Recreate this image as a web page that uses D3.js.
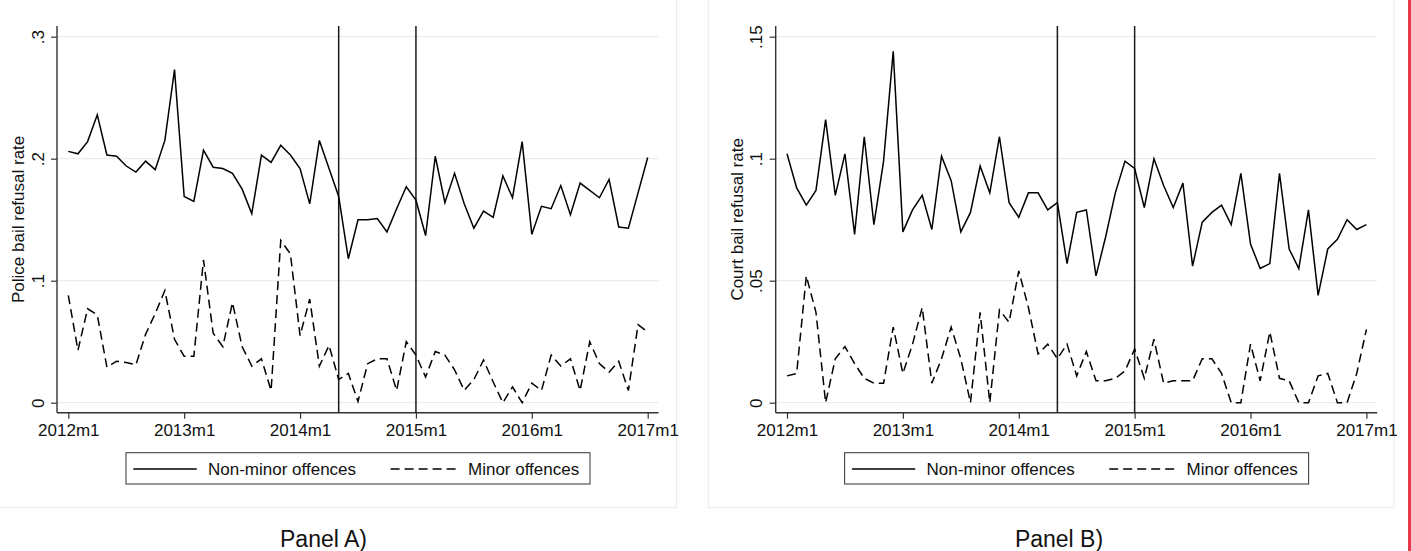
<!DOCTYPE html>
<html>
<head>
<meta charset="utf-8">
<script src="https://cdn.jsdelivr.net/npm/d3@7"></script>
<style>
  html, body { margin: 0; padding: 0; background: #fff; }
  svg text { font-family: "Liberation Sans", Arial, sans-serif; fill: #111; }
</style>
</head>
<body>
<svg id="chart" width="1411" height="551"></svg>
<script>
// ---------------- data ----------------
const monthIndex = d3.range(0, 61); // 2012m1 .. 2017m1
const xTickValues = [0, 12, 24, 36, 48, 60];
const xTickLabels = ["2012m1", "2013m1", "2014m1", "2015m1", "2016m1", "2017m1"];
const referenceMonths = [28, 36]; // 2014m5, 2015m1

const policeNonMinor = [.206, .204, .214, .236, .203, .202, .194, .189, .198, .191,
  .215, .273, .169, .165, .207, .193, .192, .188, .175, .155,
  .203, .197, .211, .203, .192, .163, .215, .192, .169, .118,
  .150, .150, .151, .140, .159, .177, .166, .137, .202, .164,
  .188, .163, .143, .157, .152, .186, .168, .214, .138, .161,
  .159, .178, .154, .180, .174, .168, .183, .144, .143, .172, .201];
const policeMinor = [.088, .043, .077, .072, .029, .034, .033, .031, .056, .073,
  .092, .052, .038, .038, .117, .057, .046, .082, .046, .030,
  .036, .010, .133, .122, .055, .085, .030, .047, .019, .024,
  .001, .032, .036, .036, .010, .050, .039, .021, .042, .039,
  .027, .010, .019, .035, .017, .000, .013, .000, .016, .010,
  .039, .030, .036, .010, .050, .032, .025, .034, .010, .064, .058];
const courtNonMinor = [.102, .088, .081, .087, .116, .085, .102, .069, .109, .073,
  .099, .144, .070, .079, .085, .071, .101, .091, .070, .078,
  .097, .086, .109, .082, .076, .086, .086, .079, .082, .057,
  .078, .079, .052, .068, .086, .099, .096, .080, .100, .089,
  .080, .090, .056, .074, .078, .081, .073, .094, .065, .055,
  .057, .094, .063, .055, .079, .044, .063, .067, .075, .071, .073];
const courtMinor = [.011, .012, .052, .037, .000, .018, .023, .016, .010, .008,
  .008, .031, .012, .024, .039, .008, .018, .031, .018, .000,
  .037, .000, .038, .033, .054, .039, .020, .024, .018, .024,
  .011, .021, .009, .009, .010, .013, .022, .010, .026, .008,
  .009, .009, .009, .018, .018, .012, .000, .000, .024, .009,
  .029, .010, .009, .000, .000, .011, .012, .000, .000, .012, .030];

const yTicksA = [0, .1, .2, .3];
const yTickLabelsA = ["0", ".1", ".2", ".3"];
const yTicksB = [0, .05, .1, .15];
const yTickLabelsB = ["0", ".05", ".1", ".15"];

const seriesNames = ["Non-minor offences", "Minor offences"];
const panelCaptions = ["Panel A)", "Panel B)"];
const yTitles = ["Police bail refusal rate", "Court bail refusal rate"];

// ---------------- drawing ----------------
const svg = d3.select("#chart");
const FONT = 17;
const DASH = "9,5";

function drawPanel(cfg) {
  const g = svg.append("g");
  const x = d3.scaleLinear().domain([0, 60]).range([cfg.x0, cfg.x0 + 579.4]);
  const y = d3.scaleLinear().domain([0, cfg.yMax]).range([402.7, 36.7]);
  const axisLeftX = cfg.x0 - 11.3;
  const axisRightX = cfg.x0 + 590.2;
  const plotTop = 26, axisY = 412.7;

  // faint panel frame
  g.append("rect")
    .attr("x", cfg.frame[0]).attr("y", -2)
    .attr("width", cfg.frame[1] - cfg.frame[0]).attr("height", 507.7 + 2)
    .attr("fill", "none").attr("stroke", "#e3ebef").attr("stroke-width", 1);

  // gridlines
  g.selectAll(".grid").data(cfg.yTicks).join("line")
    .attr("x1", axisLeftX).attr("x2", axisRightX)
    .attr("y1", d => y(d)).attr("y2", d => y(d))
    .attr("stroke", "#e6eef2").attr("stroke-width", 1.2);

  // y axis
  const yAxis = d3.axisLeft(y).tickValues(cfg.yTicks).tickSize(6).tickSizeOuter(0)
    .tickFormat((d, i) => cfg.yLabels[i]);
  const ya = g.append("g").attr("transform", `translate(${axisLeftX},0)`).call(yAxis);
  ya.select(".domain").remove();
  ya.selectAll(".tick line").attr("stroke", "#333").attr("stroke-width", 1.2);
  ya.selectAll(".tick text")
    .attr("x", null).attr("dy", null)
    .attr("transform", "translate(-13.5,0) rotate(-90)")
    .attr("text-anchor", "middle")
    .style("font-size", FONT + "px").style("font-family", "Liberation Sans, Arial, sans-serif")
    .attr("fill", "#111");
  g.append("line").attr("x1", axisLeftX).attr("x2", axisLeftX)
    .attr("y1", plotTop).attr("y2", axisY).attr("stroke", "#333").attr("stroke-width", 1.4);

  // x axis
  const xAxis = d3.axisBottom(x).tickValues(xTickValues).tickSize(6).tickSizeOuter(0)
    .tickFormat((d, i) => xTickLabels[i]);
  const xa = g.append("g").attr("transform", `translate(0,${axisY})`).call(xAxis);
  xa.select(".domain").remove();
  xa.selectAll(".tick line").attr("stroke", "#333").attr("stroke-width", 1.2);
  xa.selectAll(".tick text").attr("y", 23.3).attr("dy", null)
    .style("font-size", FONT + "px").style("font-family", "Liberation Sans, Arial, sans-serif")
    .attr("fill", "#111");
  g.append("line").attr("x1", axisLeftX).attr("x2", axisRightX)
    .attr("y1", axisY).attr("y2", axisY).attr("stroke", "#333").attr("stroke-width", 1.4);

  // y title
  g.append("text")
    .attr("transform", `translate(${axisLeftX - 33},${(plotTop + axisY) / 2}) rotate(-90)`)
    .attr("text-anchor", "middle").style("font-size", FONT + "px")
    .text(cfg.yTitle);

  // reference lines
  g.selectAll(".ref").data(referenceMonths).join("line")
    .attr("x1", d => x(d)).attr("x2", d => x(d))
    .attr("y1", plotTop).attr("y2", axisY)
    .attr("stroke", "#1a1a1a").attr("stroke-width", 1.5);

  // series
  const line = d3.line().x((d, i) => x(monthIndex[i])).y(d => y(d));
  g.append("path").datum(cfg.nonMinor).attr("d", line)
    .attr("fill", "none").attr("stroke", "#000").attr("stroke-width", 1.5)
    .attr("stroke-linejoin", "miter");
  g.append("path").datum(cfg.minor).attr("d", line)
    .attr("fill", "none").attr("stroke", "#000").attr("stroke-width", 1.5)
    .attr("stroke-dasharray", DASH);

  // legend
  const lx = cfg.legendX, ly = 452.7;
  g.append("rect").attr("x", lx).attr("y", ly).attr("width", 464).attr("height", 31.3)
    .attr("fill", "#fff").attr("stroke", "#444").attr("stroke-width", 1.1);
  g.append("line").attr("x1", lx + 7.3).attr("x2", lx + 70.7).attr("y1", 469).attr("y2", 469)
    .attr("stroke", "#000").attr("stroke-width", 1.5);
  g.append("text").attr("x", lx + 82).attr("y", 475).style("font-size", FONT + "px")
    .text(seriesNames[0]);
  g.append("line").attr("x1", lx + 264.6).attr("x2", lx + 332).attr("y1", 469).attr("y2", 469)
    .attr("stroke", "#000").attr("stroke-width", 1.5).attr("stroke-dasharray", DASH);
  g.append("text").attr("x", lx + 342).attr("y", 475).style("font-size", FONT + "px")
    .text(seriesNames[1]);

  // caption
  g.append("text").attr("x", cfg.captionX).attr("y", 547).attr("text-anchor", "middle")
    .style("font-size", "23px").text(cfg.caption);
}

drawPanel({
  x0: 68.3, yMax: 0.3, yTicks: yTicksA, yLabels: yTickLabelsA,
  yTitle: yTitles[0], nonMinor: policeNonMinor, minor: policeMinor,
  legendX: 126, captionX: 323.5, caption: panelCaptions[0], frame: [-2, 676.7]
});
drawPanel({
  x0: 787, yMax: 0.15, yTicks: yTicksB, yLabels: yTickLabelsB,
  yTitle: yTitles[1], nonMinor: courtNonMinor, minor: courtMinor,
  legendX: 844.6, captionX: 1059, caption: panelCaptions[1], frame: [708.3, 1394]
});

// red edge line at right
svg.append("line").attr("x1", 1409.5).attr("x2", 1409.5).attr("y1", 0).attr("y2", 551)
  .attr("stroke", "#e6394a").attr("stroke-width", 3);
</script>
</body>
</html>
